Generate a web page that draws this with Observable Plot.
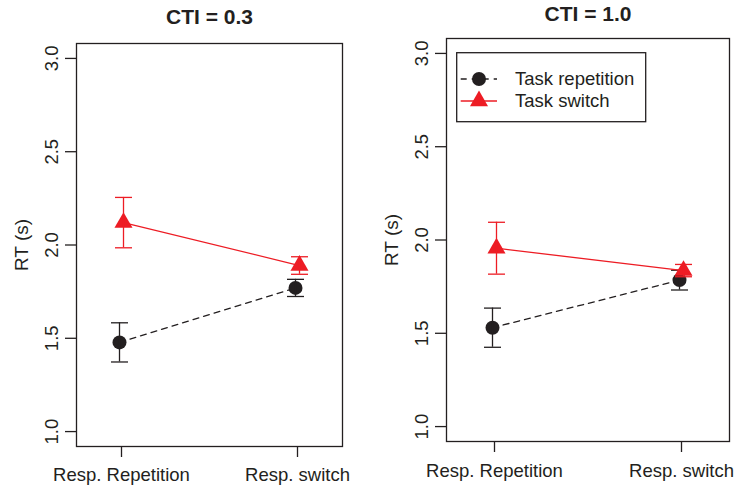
<!DOCTYPE html>
<html><head><meta charset="utf-8">
<script src="https://cdn.jsdelivr.net/npm/d3@7"></script>
<script src="https://cdn.jsdelivr.net/npm/@observablehq/plot@0.6"></script>
<style>
body{margin:0;background:#fff;}
#wrap{position:relative;width:736px;height:488px;font-family:"Liberation Sans",Arial,Helvetica,sans-serif;}
.panel{position:absolute;top:0;}
#legend{position:absolute;left:0;top:0;}
</style></head><body><div id="wrap"></div>
<script>
const conditions = ["Resp. Repetition", "Resp. switch"];
const series = ["Task repetition", "Task switch"];
const panelTitles = ["CTI = 0.3", "CTI = 1.0"];
// CTI = 0.3
const repMean03 = [1.478, 1.770];
const repErr03  = [0.105, 0.046];
const swMean03  = [2.120, 1.890];
const swErr03   = [0.135, 0.047];
// CTI = 1.0
const repMean10 = [1.530, 1.785];
const repErr10  = [0.105, 0.053];
const swMean10  = [1.956, 1.836];
const swErr10   = [0.139, 0.033];
const yTicks = [1.0, 1.5, 2.0, 2.5, 3.0];
const yLabel = "RT (s)";

const BLACK = "#231F20", RED = "#ED1C24";
const FONT = "'Liberation Sans', Arial, Helvetica, sans-serif";

const capSymbol = {draw(ctx, size) { const w = Math.sqrt(size / Math.PI); ctx.moveTo(-w, 0); ctx.lineTo(w, 0); }};

function rows(means, errs, s) {
  return conditions.map((c, i) => ({cond: c, series: s, mean: means[i], err: errs[i]}));
}

const panels = [
  {title: panelTitles[0], rep: rows(repMean03, repErr03, series[0]), sw: rows(swMean03, swErr03, series[1]),
   left: 0, m: {left: 76, right: 26, top: 43, bottom: 42}, titleDy: -26, xDy: 28.5},
  {title: panelTitles[1], rep: rows(repMean10, repErr10, series[0]), sw: rows(swMean10, swErr10, series[1]),
   left: 368, m: {left: 78, right: 7, top: 38, bottom: 47}, titleDy: -24, xDy: 30}
];

const wrap = document.getElementById("wrap");

function seriesMarks(data, color, dx, dash, symbol, r) {
  return [
    Plot.line(data, {x: "cond", y: "mean", dx, stroke: color, strokeWidth: 1.3, strokeDasharray: dash}),
    Plot.dot(data, {x: "cond", y: "mean", dx, fill: color, stroke: "none", symbol, r}),
    Plot.ruleX(data, {x: "cond", y1: d => d.mean - d.err, y2: d => d.mean + d.err, dx, stroke: color, strokeWidth: 1.3}),
    Plot.dot(data, {x: "cond", y: d => d.mean + d.err, dx, symbol: capSymbol, r: 8.5, stroke: color, strokeWidth: 1.3, fill: "none"}),
    Plot.dot(data, {x: "cond", y: d => d.mean - d.err, dx, symbol: capSymbol, r: 8.5, stroke: color, strokeWidth: 1.3, fill: "none"})
  ];
}

panels.forEach(p => {
  const chart = Plot.plot({
    width: 368, height: 488,
    marginLeft: p.m.left, marginRight: p.m.right, marginTop: p.m.top, marginBottom: p.m.bottom,
    style: {fontFamily: FONT, fontSize: "18.5px", color: BLACK, background: "transparent"},
    x: {type: "point", domain: conditions, padding: 0.2553},
    y: {domain: [0.92, 3.08]},
    marks: [
      Plot.frame({stroke: BLACK, strokeWidth: 1.3}),
      Plot.axisY({ticks: yTicks, tickSize: 11, tickFormat: () => "", label: null, stroke: BLACK, strokeWidth: 1.3}),
      Plot.axisX({tickSize: 11, tickFormat: () => "", label: null, stroke: BLACK, strokeWidth: 1.3}),
      Plot.text(yTicks, {y: d => d, text: d => d.toFixed(1), frameAnchor: "left", dx: -24, rotate: -90,
        textAnchor: "middle", lineAnchor: "middle", fontSize: 18.5, fill: BLACK}),
      Plot.text(conditions, {x: d => d, text: d => d, frameAnchor: "bottom", dy: p.xDy,
        lineAnchor: "middle", fontSize: 18.5, fill: BLACK}),
      Plot.text([yLabel], {text: d => d, frameAnchor: "left", dx: -55, rotate: -90,
        textAnchor: "middle", lineAnchor: "middle", fontSize: 19, fill: BLACK}),
      Plot.text([p.title], {text: d => d, frameAnchor: "top", dy: p.titleDy, lineAnchor: "middle",
        fontSize: 21, fontWeight: "bold", fill: BLACK}),
      ...seriesMarks(p.rep, BLACK, -2, "6,5", "circle", 7),
      ...seriesMarks(p.sw, RED, 2, null, "triangle", 6.7)
    ]
  });
  chart.classList.add("panel");
  chart.style.left = p.left + "px";
  wrap.appendChild(chart);
});

// Legend (right panel)
const leg = d3.select(wrap).append("svg").attr("id", "legend").attr("width", 736).attr("height", 488);
leg.append("rect").attr("x", 456.7).attr("y", 52.7).attr("width", 189).attr("height", 69)
  .attr("fill", "white").attr("stroke", BLACK).attr("stroke-width", 1.3);
const legItems = [
  {name: series[0], color: BLACK, dash: "6,5", sym: d3.symbolCircle, r: 7},
  {name: series[1], color: RED, dash: null, sym: d3.symbolTriangle, r: 6.7}
];
legItems.forEach((it, i) => {
  const y = 79 + i * 22;
  leg.append("line").attr("x1", 460.7).attr("x2", 497).attr("y1", y).attr("y2", y)
    .attr("stroke", it.color).attr("stroke-width", 1.3).attr("stroke-dasharray", it.dash);
  leg.append("path").attr("transform", `translate(479,${y})`)
    .attr("d", d3.symbol(it.sym, Math.PI * it.r * it.r)()).attr("fill", it.color);
  leg.append("text").attr("x", 515).attr("y", y).attr("dy", "0.35em").attr("font-family", FONT)
    .attr("font-size", 18.5).attr("fill", BLACK).text(it.name);
});
</script></body></html>
